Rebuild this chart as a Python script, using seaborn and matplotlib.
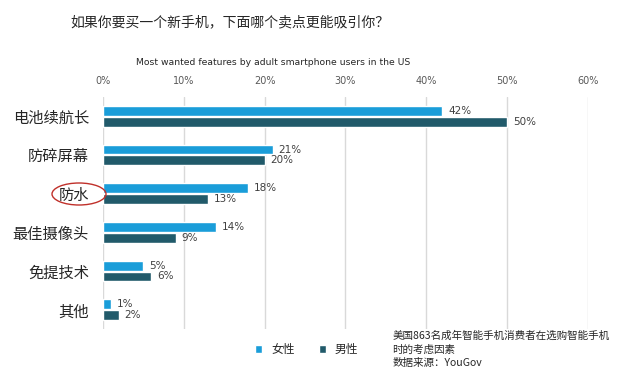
import matplotlib

matplotlib.use("Agg")
import matplotlib.pyplot as plt
import pandas as pd
import seaborn as sns
from matplotlib.patches import Ellipse

# Chart data
categories = ["电池续航长", "防碎屏幕", "防水", "最佳摄像头", "免提技术", "其他"]
female = [42, 21, 18, 14, 5, 1]
male = [50, 20, 13, 9, 6, 2]
series_names = ["女性", "男性"]
x_ticks = [0, 10, 20, 30, 40, 50, 60]

title = "如果你要买一个新手机，下面哪个卖点更能吸引你？"
subtitle = "Most wanted features by adult smartphone users in the US"
note = "美国863名成年智能手机消费者在选购智能手机\n时的考虑因素\n数据来源：YouGov"

df = pd.DataFrame(
    {
        "feature": categories * 2,
        "pct": female + male,
        "gender": [series_names[0]] * len(categories) + [series_names[1]] * len(categories),
    }
)

sns.set_theme(style="white")
plt.rcParams["font.family"] = ["Noto Sans CJK SC", "DejaVu Sans"]

fig = plt.figure(figsize=(6.43, 3.77), dpi=100)
ax = fig.add_axes([0.160, 0.127, 0.7545, 0.616])

palette = {"女性": "#1a9dd9", "男性": "#215a6a"}
sns.barplot(
    data=df,
    y="feature",
    x="pct",
    hue="gender",
    order=categories,
    hue_order=series_names,
    palette=palette,
    orient="h",
    width=0.56,
    gap=0.1,
    saturation=1,
    ax=ax,
)

for cont in ax.containers:
    ax.bar_label(cont, fmt="%d%%", padding=4, fontsize=7.5, color="#404040",
                 family=["DejaVu Sans"])

ax.set_xlim(0, 60)
ax.set_xticks(x_ticks)
ax.set_xticklabels([f"{t}%" for t in x_ticks], fontsize=7, color="#595959",
                   family=["DejaVu Sans"])
ax.xaxis.tick_top()
ax.tick_params(axis="x", length=0, pad=8)
ax.tick_params(axis="y", length=0, pad=10, labelsize=11, colors="#262626")
ax.set_xlabel("")
ax.set_ylabel("")
ax.grid(axis="x", color="#d9d9d9", linewidth=1)
ax.set_axisbelow(True)
for s in ax.spines.values():
    s.set_visible(False)

handles, labels = ax.get_legend_handles_labels()
ax.get_legend().remove()
fig.legend(
    handles, labels, loc="center", bbox_to_anchor=(0.477, 0.072), ncol=2,
    frameon=False, fontsize=8.5, handlelength=0.6, handleheight=0.6,
    columnspacing=2.0, handletextpad=0.8,
)

fig.text(0.109, 0.942, title, fontsize=10, color="#262626", va="center", ha="left")
fig.text(0.424, 0.835, subtitle, fontsize=6.7, color="#262626", va="center", ha="center",
         family=["DejaVu Sans"])
fig.text(0.61, 0.074, note, fontsize=7.6, color="#262626", va="center", ha="left",
         linespacing=1.4)

# red circle highlighting the waterproof label
fig.patches.append(
    Ellipse((79 / 643, 1 - 194 / 377), 54 / 643, 22 / 377, transform=fig.transFigure,
            fill=False, edgecolor="#c0302a", linewidth=1)
)

fig.savefig("out.png", dpi=100)
